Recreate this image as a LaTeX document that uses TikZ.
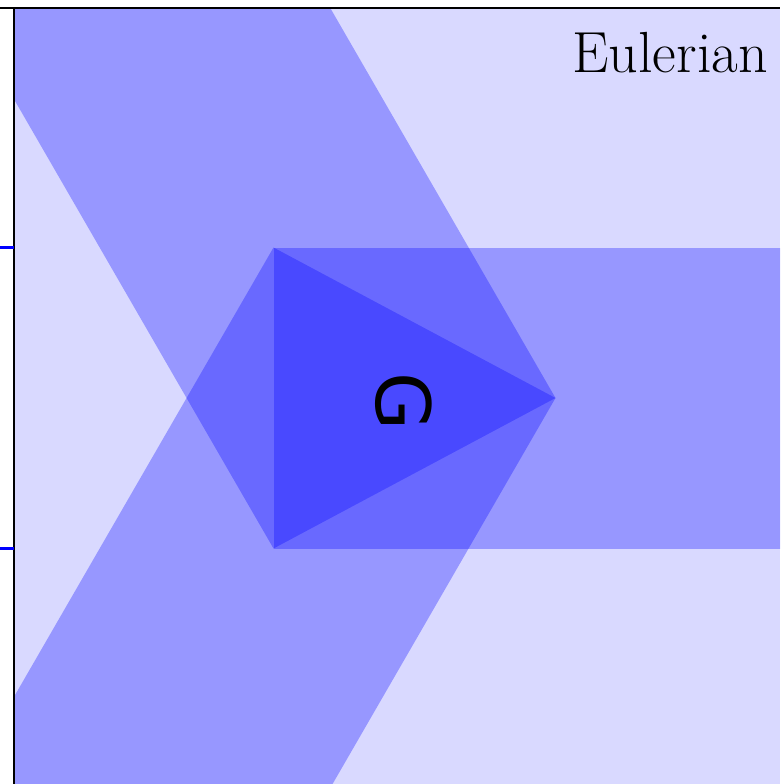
\documentclass[tikz,border=0pt]{standalone}
\usepackage{fontspec}
\newfontfamily\glyphfont{DejaVu Sans}
\usetikzlibrary{calc}

\begin{document}
\begin{tikzpicture}[
    x=1pt,y=-1pt,
    bandfill/.style={fill=blue,fill opacity=0.3},
    backfill/.style={fill=blue,fill opacity=0.15},
    axisline/.style={draw=black,line width=1.6pt},
    ytickline/.style={draw=blue,line width=2.4pt}
  ]
    \useasboundingbox (0,0) rectangle (780,784);
    \coordinate (a) at (273.5,247.5);
    \coordinate (b) at (273.5,548.5);
    \coordinate (c) at (555.5,398);
    \begin{scope}
      \clip (14,8) rectangle (780,784);
      \fill[backfill] (14,8) rectangle (780,784);
      % three bands, one on each side of the triangle
      \fill[bandfill] (a) -- (b) -- ($(b)+(540,0)$) -- ($(a)+(540,0)$) -- cycle;
      \fill[bandfill] (b) -- (c) -- ($(c)+(-350,-606)$) -- ($(b)+(-350,-606)$) -- cycle;
      \fill[bandfill] (a) -- (c) -- ($(c)+(-350,606)$) -- ($(a)+(-350,606)$) -- cycle;
    \end{scope}
    \node[anchor=base east,inner sep=0pt,font=\fontsize{58}{64}\selectfont] (title) at (768,72) {Eulerian};
    \node[rotate=-90,inner sep=0pt,font=\glyphfont\fontsize{75}{80}\selectfont] (glabel) at (403.5,401.5) {G};
    \draw[axisline] (0,8) -- (780,8);
    \draw[axisline] (14,8) -- (14,784);
    \foreach \ty in {247.5,548.5}
      \draw[ytickline] (0,\ty) -- (14,\ty);
  \end{tikzpicture}
\end{document}
